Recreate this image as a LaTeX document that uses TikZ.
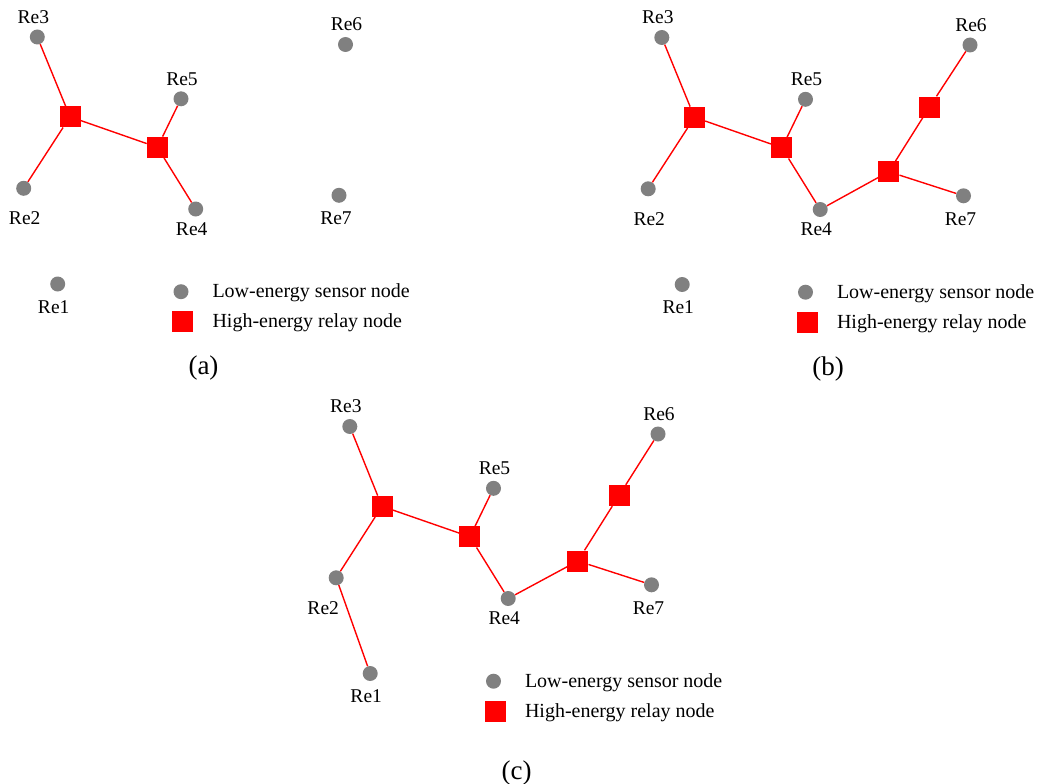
\documentclass[tikz,border=0pt]{standalone}
\usepackage{fontspec}
\setmainfont{Liberation Serif}
\definecolor{sensorgray}{HTML}{808080}
\definecolor{relayred}{HTML}{FF0000}
\tikzset{
  sensor/.style={circle, fill=sensorgray, minimum size=15pt, inner sep=0pt},
  relay/.style={rectangle, fill=relayred, minimum size=21pt, inner sep=0pt},
  link/.style={draw=relayred, line width=1.4pt},
  lbl/.style={font=\fontsize{19.5}{20}\selectfont, inner sep=0pt},
  legendtext/.style={font=\fontsize{20}{22}\selectfont, anchor=base west, inner sep=0pt},
  caption/.style={font=\fontsize{27}{30}\selectfont, inner sep=0pt}
}
% the seven sensor nodes of one panel, with their names
\newcommand{\sensorfield}{%
  \node[sensor] (re1) at (57.7,284) {};
  \node[sensor] (re2) at (23.7,188.3) {};
  \node[sensor] (re3) at (37.3,37) {};
  \node[sensor] (re4) at (195.7,209) {};
  \node[sensor] (re5) at (181,98.8) {};
  \node[sensor] (re6) at (345.5,44.5) {};
  \node[sensor] (re7) at (339,195.3) {};
  \node[lbl] (re1-l) at ([shift={(-4,23)}]re1) {Re1};
  \node[lbl] (re3-l) at ([shift={(-4,-20)}]re3) {Re3};
  \node[lbl] (re4-l) at ([shift={(-4,20)}]re4) {Re4};
  \node[lbl] (re5-l) at ([shift={(1,-20)}]re5) {Re5};
  \node[lbl] (re6-l) at ([shift={(1,-20)}]re6) {Re6};
  \node[lbl] (re7-l) at ([shift={(-3,23)}]re7) {Re7};
}
% legend of one panel
\newcommand{\legendbox}{%
  \node[sensor] (leg-s) at (181,291.7) {};
  \node[relay] (leg-r) at (182.5,321.5) {};
  \node[legendtext] (leg-st) at (212.3,297.5) {Low-energy sensor node};
  \node[legendtext] (leg-rt) at (212.3,327.5) {High-energy relay node};
}
\begin{document}
\begin{tikzpicture}[x=1pt, y=-1pt]
\useasboundingbox (0,0) rectangle (1039,784);

% (a) two relay nodes
\begin{scope}[name prefix=a-]
  \sensorfield
  \node[lbl] (re2-l) at ([shift={(1,30)}]re2) {Re2};
  \node[relay] (r1) at (70,116.8) {};
  \node[relay] (r2) at (157.4,147.3) {};
  \draw[link] (r1) -- (re3);
  \draw[link] (r1) -- (re2);
  \draw[link] (r1) -- (r2);
  \draw[link] (r2) -- (re5);
  \draw[link] (r2) -- (re4);
  \legendbox
  \node[caption] (cap) at (203.5,368.3) {(a)};
\end{scope}

% (b) four relay nodes
\begin{scope}[name prefix=b-, shift={(624.5,0.5)}]
  \sensorfield
  \node[lbl] (re2-l) at ([shift={(1,30)}]re2) {Re2};
  \node[relay] (r1) at (70,116.8) {};
  \node[relay] (r2) at (157.4,147.3) {};
  \node[relay] (r3) at (264.3,171.2) {};
  \node[relay] (r4) at (305,106.5) {};
  \draw[link] (r1) -- (re3);
  \draw[link] (r1) -- (re2);
  \draw[link] (r1) -- (r2);
  \draw[link] (r2) -- (re5);
  \draw[link] (r2) -- (re4);
  \draw[link] (re4) -- (r3);
  \draw[link] (r3) -- (re7);
  \draw[link] (r3) -- (r4);
  \draw[link] (r4) -- (re6);
  \legendbox
  \node[caption] (cap) at (203.5,368.3) {(b)};
\end{scope}

% (c) four relay nodes, Re1 joined through Re2
\begin{scope}[name prefix=c-, shift={(312.5,389.5)}]
  \sensorfield
  \node[lbl] (re2-l) at ([shift={(-13,30)}]re2) {Re2};
  \node[relay] (r1) at (69.5,116.8) {};
  \node[relay] (r2) at (157.4,147.3) {};
  \node[relay] (r3) at (265.3,171.5) {};
  \node[relay] (r4) at (306.5,106) {};
  \draw[link] (r1) -- (re3);
  \draw[link] (r1) -- (re2);
  \draw[link] (re2) -- (re1);
  \draw[link] (r1) -- (r2);
  \draw[link] (r2) -- (re5);
  \draw[link] (r2) -- (re4);
  \draw[link] (re4) -- (r3);
  \draw[link] (r3) -- (re7);
  \draw[link] (r3) -- (r4);
  \draw[link] (r4) -- (re6);
  \legendbox
  \node[caption] (cap) at (204.2,383.8) {(c)};
\end{scope}
\end{tikzpicture}
\end{document}
